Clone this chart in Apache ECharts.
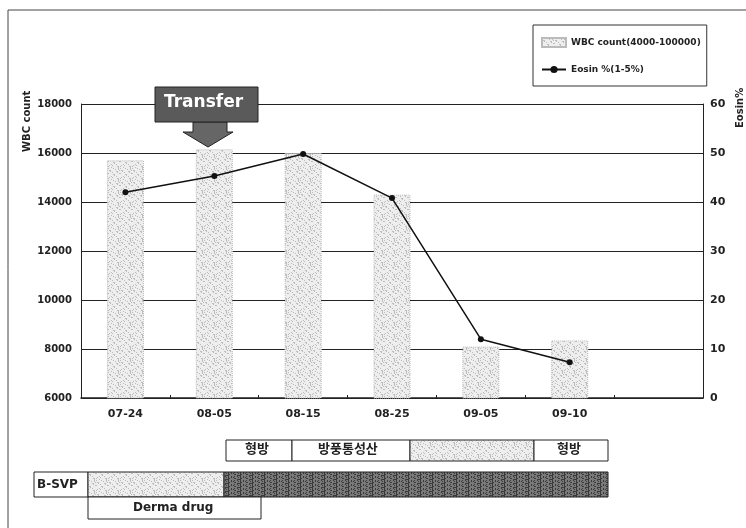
<!DOCTYPE html>
<html>
<head>
<meta charset="utf-8">
<script src="https://cdn.jsdelivr.net/npm/echarts@6/dist/echarts.min.js"></script>
<style>
  html, body { margin: 0; padding: 0; background: #fff; }
  #chart { width: 746px; height: 528px; }
</style>
</head>
<body>
<div id="chart"></div>
<script>
// 날짜 (마지막 칸은 비어 있음)
const dates = ['07-24', '08-05', '08-15', '08-25', '09-05', '09-10', ''];
// WBC count
const wbcValues = [15700, 16150, 16000, 14300, 8100, 8350, null];
// Eosin %
const eosinValues = [42.0, 45.3, 49.8, 40.8, 12.0, 7.3, null];
const leftTicks = { min: 6000, max: 18000, step: 2000 };
const rightTicks = { min: 0, max: 60, step: 10 };

// 점묘 무늬 (막대용)
function stipple(bg, dot, size, mod) {
  const c = document.createElement('canvas');
  c.width = size; c.height = size;
  const ctx = c.getContext('2d');
  ctx.fillStyle = bg;
  ctx.fillRect(0, 0, size, size);
  ctx.fillStyle = dot;
  for (let i = 0; i < size; i++) {
    for (let j = 0; j < size; j++) {
      if ((i * 7 + j * 3 + (i * j) % 4) % mod === 0) ctx.fillRect(i, j, 1, 1);
    }
  }
  return c;
}
const lightPattern = stipple('#eeeeee', '#bdbdbd', 12, 5);
const darkPattern = stipple('#7a7a7a', '#3a3a3a', 12, 3);

const font = '"DejaVu Sans", sans-serif';
const krFont = '"Noto Sans CJK KR", sans-serif';

let chart = echarts.init(document.getElementById('chart'));

let option = {
  animation: false,
  grid: { left: 81, right: 43, top: 104, bottom: 130 },
  legend: {
    orient: 'vertical',
    left: 533, top: 25,
    padding: [12, 6, 12, 8],
    itemGap: 17,
    itemWidth: 24, itemHeight: 9,
    backgroundColor: '#fff',
    borderColor: '#333', borderWidth: 1,
    textStyle: { fontSize: 9, fontWeight: 'bold', fontFamily: font, color: '#222' },
    data: [
      { name: 'WBC count(4000-100000)', icon: 'rect' },
      { name: 'Eosin %(1-5%)' }
    ]
  },
  xAxis: {
    type: 'category',
    data: dates,
    boundaryGap: true,
    axisLine: { lineStyle: { color: '#222', width: 1.5 } },
    axisTick: { show: true, inside: true, length: 3, lineStyle: { color: '#222' } },
    axisLabel: { fontSize: 11, fontWeight: 'bold', fontFamily: font, color: '#222', margin: 11 }
  },
  yAxis: [
    {
      type: 'value',
      min: leftTicks.min, max: leftTicks.max, interval: leftTicks.step,
      axisLine: { show: true, lineStyle: { color: '#222' } },
      axisTick: { show: false },
      axisLabel: { fontSize: 10, fontWeight: 'bold', fontFamily: font, color: '#222', margin: 9,
        formatter: (v) => String(v) },
      splitLine: { show: true, lineStyle: { color: '#222', width: 1 } }
    },
    {
      type: 'value',
      min: rightTicks.min, max: rightTicks.max, interval: rightTicks.step,
      axisLine: { show: true, lineStyle: { color: '#222' } },
      axisTick: { show: false },
      axisLabel: { fontSize: 11, fontWeight: 'bold', fontFamily: font, color: '#222', margin: 7 },
      splitLine: { show: false }
    }
  ],
  series: [
    {
      name: 'WBC count(4000-100000)',
      type: 'bar',
      data: wbcValues,
      barWidth: 37,
      itemStyle: {
        color: { image: lightPattern, repeat: 'repeat' },
        borderColor: '#bbb', borderWidth: 1, borderType: 'dotted'
      }
    },
    {
      name: 'Eosin %(1-5%)',
      type: 'line',
      yAxisIndex: 1,
      data: eosinValues,
      symbol: 'circle',
      symbolSize: 6,
      lineStyle: { color: '#111', width: 1.5 },
      itemStyle: { color: '#111' },
      z: 5
    }
  ],
  graphic: [
    // 바깥 테두리
    { type: 'rect', shape: { x: 8, y: 10, width: 745, height: 530 },
      style: { fill: 'none', stroke: '#444', lineWidth: 1 }, silent: true },
    // 축 이름
    { type: 'text', x: 22, y: 152, rotation: Math.PI / 2,
      style: { text: 'WBC count', fontSize: 10, fontWeight: 'bold', fontFamily: font, fill: '#222' } },
    { type: 'text', x: 735, y: 128, rotation: Math.PI / 2,
      style: { text: 'Eosin%', fontSize: 10, fontWeight: 'bold', fontFamily: font, fill: '#222' } },
    // Transfer 화살표
    { type: 'polygon', z: 10,
      shape: { points: [[193, 122], [227, 122], [227, 132], [233, 132], [208, 147], [183, 132], [193, 132]] },
      style: { fill: '#666', stroke: '#222', lineWidth: 1 } },
    { type: 'rect', z: 10, shape: { x: 155, y: 87, width: 103, height: 35 },
      style: { fill: '#5a5a5a', stroke: '#222', lineWidth: 1 } },
    { type: 'text', z: 11, left: 164, top: 94,
      style: { text: 'Transfer', fontSize: 17, fontWeight: 'bold', fontFamily: font, fill: '#fff' } },
    // 처방 표
    { type: 'rect', shape: { x: 226, y: 440, width: 66, height: 21 }, style: { fill: '#fff', stroke: '#222' } },
    { type: 'text', left: 245, top: 442, style: { text: '형방', fontSize: 13, fontWeight: 'bold', fontFamily: krFont, fill: '#222' } },
    { type: 'rect', shape: { x: 292, y: 440, width: 118, height: 21 }, style: { fill: '#fff', stroke: '#222' } },
    { type: 'text', left: 318, top: 442, style: { text: '방풍통성산', fontSize: 13, fontWeight: 'bold', fontFamily: krFont, fill: '#222' } },
    { type: 'rect', shape: { x: 410, y: 440, width: 124, height: 21 }, style: { fill: { image: lightPattern, repeat: 'repeat' }, stroke: '#222' } },
    { type: 'rect', shape: { x: 534, y: 440, width: 74, height: 21 }, style: { fill: '#fff', stroke: '#222' } },
    { type: 'text', left: 557, top: 442, style: { text: '형방', fontSize: 13, fontWeight: 'bold', fontFamily: krFont, fill: '#222' } },
    { type: 'rect', shape: { x: 34, y: 472, width: 54, height: 25 }, style: { fill: '#fff', stroke: '#222' } },
    { type: 'text', left: 37, top: 479, style: { text: 'B-SVP', fontSize: 12, fontWeight: 'bold', fontFamily: font, fill: '#222' } },
    { type: 'rect', shape: { x: 88, y: 472, width: 136, height: 25 }, style: { fill: { image: lightPattern, repeat: 'repeat' }, stroke: '#222' } },
    { type: 'rect', shape: { x: 224, y: 472, width: 384, height: 25 }, style: { fill: { image: darkPattern, repeat: 'repeat' }, stroke: '#222' } },
    { type: 'rect', shape: { x: 88, y: 497, width: 173, height: 22 }, style: { fill: '#fff', stroke: '#222' } },
    { type: 'text', left: 133, top: 502, style: { text: 'Derma drug', fontSize: 12, fontWeight: 'bold', fontFamily: font, fill: '#222' } }
  ]
};
chart.setOption(option);

window.onresize = () => {
  chart.resize();
};
</script>
</body>
</html>
